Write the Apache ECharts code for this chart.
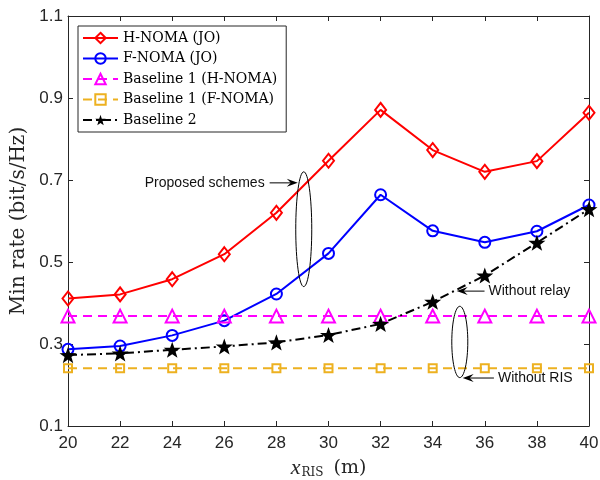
<!DOCTYPE html>
<html>
<head>
<meta charset="utf-8">
<script src="https://cdn.jsdelivr.net/npm/echarts@6/dist/echarts.min.js"></script>
<style>
html,body{margin:0;padding:0;background:#fff;}
#main{width:600px;height:480px;}
</style>
</head>
<body>
<div id="main"></div>
<script>
// x positions of the RIS (m)
var xRis = [20, 22, 24, 26, 28, 30, 32, 34, 36, 38, 40];
var hNomaJO = [0.411, 0.421, 0.458, 0.519, 0.620, 0.747, 0.871, 0.773, 0.720, 0.746, 0.864];
var fNomaJO = [0.287, 0.295, 0.321, 0.357, 0.422, 0.521, 0.664, 0.576, 0.548, 0.575, 0.639];
var base1H = [0.368, 0.368, 0.368, 0.368, 0.368, 0.368, 0.368, 0.368, 0.368, 0.368, 0.368];
var base1F = [0.241, 0.241, 0.241, 0.241, 0.241, 0.241, 0.241, 0.241, 0.241, 0.241, 0.241];
var base2 = [0.273, 0.277, 0.286, 0.294, 0.304, 0.322, 0.349, 0.403, 0.467, 0.547, 0.629];
var seriesNames = ['H-NOMA (JO)', 'F-NOMA (JO)', 'Baseline 1 (H-NOMA)', 'Baseline 1 (F-NOMA)', 'Baseline 2'];
var yTicks = [0.1, 0.3, 0.5, 0.7, 0.9, 1.1];

// annotation anchors in data units
var notes = [
    {text: 'Proposed schemes', tail: [27.74, 0.693], tip: [28.82, 0.693], side: 'left'},
    {text: 'Without relay', tail: [35.99, 0.429], tip: [34.92, 0.429], side: 'right'},
    {text: 'Without RIS', tail: [36.35, 0.217], tip: [35.15, 0.217], side: 'right'}
];
var ovals = [
    {c: [29.05, 0.580], ry: 0.140},
    {c: [35.04, 0.305], ry: 0.087}
];

function pairs(vals){
    var out = [];
    for(var i=0;i<xRis.length;i++){
        out.push([xRis[i], vals[i]]);
    }
    return out;
}

var star = 'path://M0,-10L2.35,-3.24L9.51,-3.09L3.8,1.24L5.88,8.09L0,4.1L-5.88,8.09L-3.8,1.24L-9.51,-3.09L-2.35,-3.24Z';
var axisCol = '#262626';
var sans = 'Liberation Sans';
var serif = 'DejaVu Serif';

function mkSeries(name, vals, col, sym, size, dash, filled){
    return {
        name: name,
        type: 'line',
        data: pairs(vals),
        symbol: sym,
        symbolSize: size,
        symbolKeepAspect: true,
        showAllSymbol: true,
        color: col,
        lineStyle: {color: col, width: 2, type: dash},
        itemStyle: {
            color: filled ? col : 'rgba(255,255,255,0)',
            borderColor: col,
            borderWidth: filled ? 0 : 2
        },
        emphasis: {disabled: true},
        animation: false,
        z: 3
    };
}

var myChart = echarts.init(document.getElementById('main'));
var option = {
    backgroundColor: '#fff',
    animation: false,
    grid: {left: 68, right: 11, top: 16, bottom: 54, containLabel: false, outerBoundsMode: 'none'},
    legend: {
        orient: 'vertical',
        left: 78,
        top: 26,
        data: seriesNames,
        itemWidth: 35,
        itemHeight: 13,
        itemGap: 6.5,
        padding: [5, 9, 5, 4],
        backgroundColor: '#fff',
        borderColor: axisCol,
        borderWidth: 1,
        borderRadius: 0,
        textStyle: {fontFamily: serif, fontSize: 14, color: '#000'},
        selectedMode: false
    },
    xAxis: [{
        type: 'value',
        min: 20, max: 40, interval: 2,
        name: '{i|x}{s|RIS} (m)',
        nameLocation: 'middle',
        nameGap: 31,
        nameTextStyle: {
            fontFamily: serif, fontSize: 19, color: axisCol,
            rich: {
                i: {fontFamily: 'Liberation Serif', fontStyle: 'italic', fontSize: 22, color: axisCol},
                s: {fontFamily: serif, fontSize: 12, color: axisCol, padding: [10, 4, 0, 1]}
            }
        },
        axisLine: {show: true, lineStyle: {color: axisCol, width: 1}},
        axisTick: {show: true, inside: true, length: 5, lineStyle: {color: axisCol}},
        axisLabel: {fontFamily: sans, fontSize: 17, color: axisCol, margin: 9},
        splitLine: {show: false}
    }, {
        type: 'value',
        position: 'top',
        min: 20, max: 40, interval: 2,
        axisLine: {show: true, onZero: false, lineStyle: {color: axisCol, width: 1}},
        axisTick: {show: true, inside: true, length: 5, lineStyle: {color: axisCol}},
        axisLabel: {show: false},
        splitLine: {show: false}
    }],
    yAxis: [{
        type: 'value',
        min: yTicks[0], max: yTicks[yTicks.length-1], interval: 0.2,
        name: 'Min rate (bit/s/Hz)',
        nameLocation: 'middle',
        nameGap: 37,
        nameTextStyle: {fontFamily: serif, fontSize: 20, color: axisCol},
        axisLine: {show: true, lineStyle: {color: axisCol, width: 1}},
        axisTick: {show: true, inside: true, length: 5, lineStyle: {color: axisCol}},
        axisLabel: {fontFamily: sans, fontSize: 17, color: axisCol, margin: 5,
            formatter: function(v){ return v.toFixed(1); }},
        splitLine: {show: false}
    }, {
        type: 'value',
        position: 'right',
        min: yTicks[0], max: yTicks[yTicks.length-1], interval: 0.2,
        axisLine: {show: true, onZero: false, lineStyle: {color: axisCol, width: 1}},
        axisTick: {show: true, inside: true, length: 5, lineStyle: {color: axisCol}},
        axisLabel: {show: false},
        splitLine: {show: false}
    }],
    series: [
        mkSeries(seriesNames[0], hNomaJO, '#FF0000', 'diamond', [11, 14], 'solid', false),
        mkSeries(seriesNames[1], fNomaJO, '#0000FF', 'circle', 11, 'solid', false),
        mkSeries(seriesNames[2], base1H, '#FF00FF', 'triangle', 13, [9, 6], false),
        mkSeries(seriesNames[3], base1F, '#EDB120', 'rect', 8, [9, 6], false),
        mkSeries(seriesNames[4], base2, '#000000', star, 17, [9, 4, 2, 4], true)
    ]
};
myChart.setOption(option);

// annotations placed through the axis scales
function px(p){
    return myChart.convertToPixel({xAxisIndex: 0, yAxisIndex: 0}, p);
}
var gfx = [];
notes.forEach(function(n){
    var a = px(n.tail), b = px(n.tip);
    var dir = b[0] > a[0] ? 1 : -1;
    gfx.push({
        type: 'line', silent: true, z: 10,
        shape: {x1: a[0], y1: a[1], x2: b[0] - dir*6, y2: b[1]},
        style: {stroke: '#000', lineWidth: 1}
    });
    gfx.push({
        type: 'polygon', silent: true, z: 10,
        shape: {points: [[b[0], b[1]], [b[0] - dir*11, b[1] - 4], [b[0] - dir*7, b[1]], [b[0] - dir*11, b[1] + 4]]},
        style: {fill: '#000'}
    });
    gfx.push({
        type: 'text', silent: true, z: 10,
        x: n.side === 'left' ? a[0] - 5 : a[0] + 4,
        y: a[1],
        style: {
            text: n.text, fontFamily: sans, fontSize: 14, fill: '#111',
            align: n.side === 'left' ? 'right' : 'left', verticalAlign: 'middle'
        }
    });
});
ovals.forEach(function(o){
    var c = px(o.c);
    var top = px([o.c[0], o.c[1] + o.ry]);
    gfx.push({
        type: 'ellipse', silent: true, z: 10,
        shape: {cx: c[0], cy: c[1], rx: 8, ry: c[1] - top[1]},
        style: {fill: 'none', stroke: '#000', lineWidth: 1}
    });
});
myChart.setOption({graphic: gfx});
</script>
</body>
</html>
